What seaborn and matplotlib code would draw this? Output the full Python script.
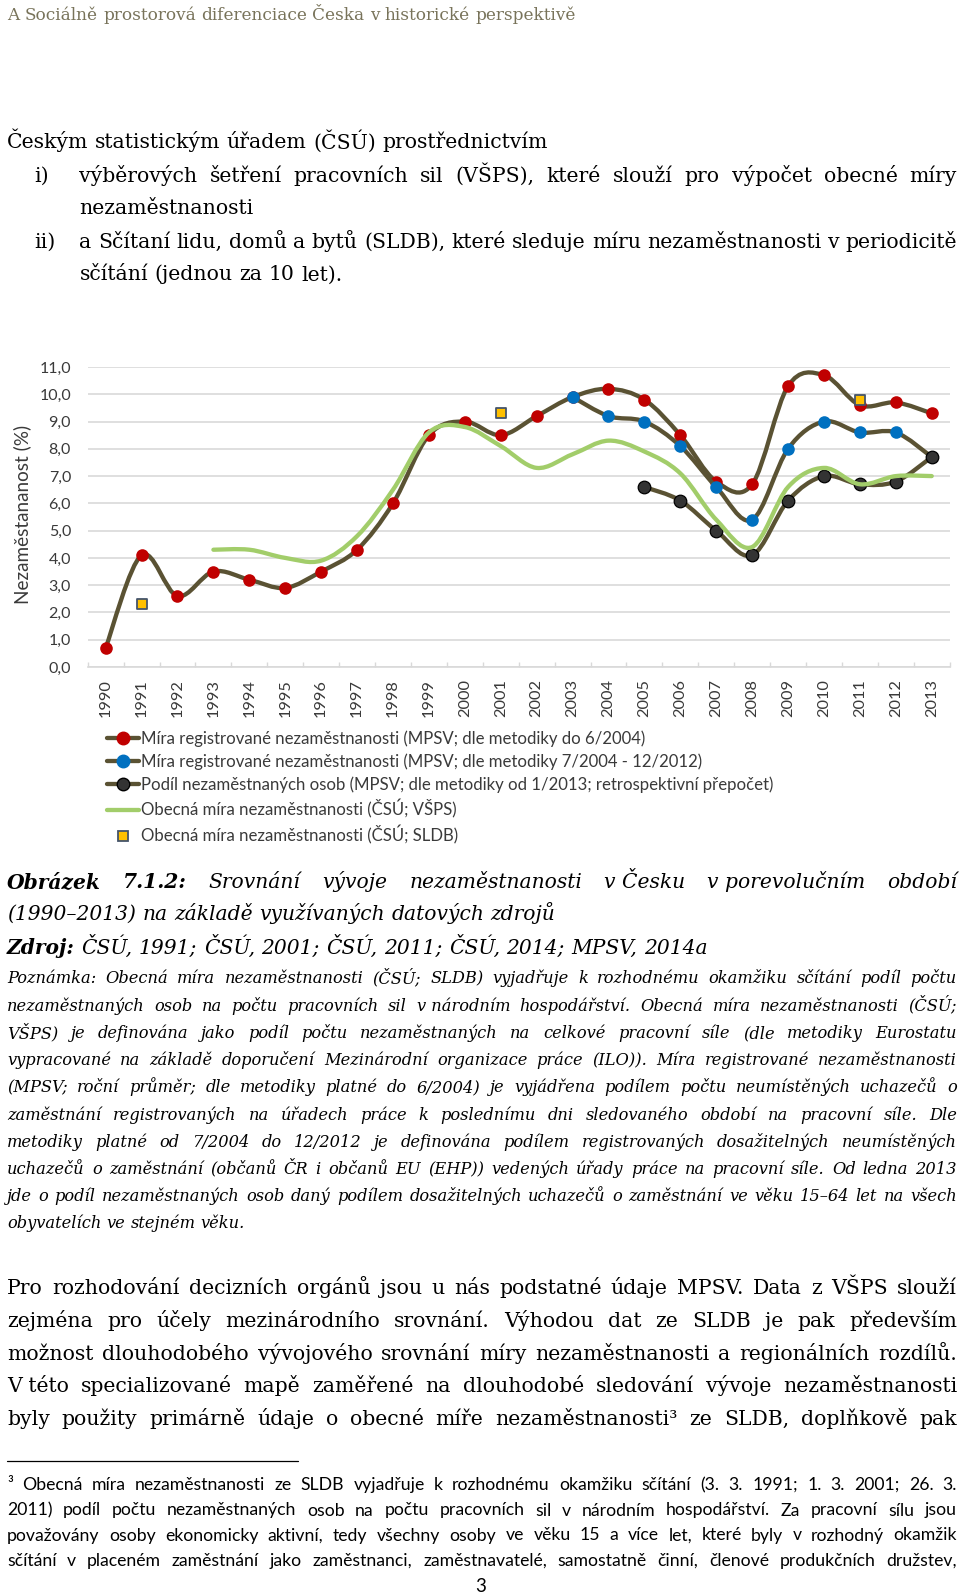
import numpy as np
import matplotlib
matplotlib.use("Agg")
import matplotlib.pyplot as plt
from matplotlib.path import Path
from matplotlib.patches import PathPatch
from matplotlib.lines import Line2D
import seaborn as sns

W, H = 960, 1596
nan = np.nan

# ---- chart data ----
years = list(range(1990, 2014))
mpsv_old = [0.7, 4.1, 2.6, 3.5, 3.2, 2.9, 3.5, 4.3, 6.0, 8.5, 9.0, 8.5,
            9.2, 9.9, 10.2, 9.8, 8.5, 6.8, 6.7, 10.3, 10.7, 9.6, 9.7, 9.3]
mpsv_new = [nan] * 13 + [9.9, 9.2, 9.0, 8.1, 6.6, 5.4, 8.0, 9.0, 8.6, 8.6, 7.7]
mpsv_2013 = [nan] * 15 + [6.6, 6.1, 5.0, 4.1, 6.1, 7.0, 6.7, 6.8, 7.7]
vsps = [nan] * 3 + [4.3, 4.3, 4.0, 3.9, 4.8, 6.5, 8.6, 8.8, 8.1, 7.3, 7.8,
                    8.3, 7.9, 7.1, 5.4, 4.4, 6.6, 7.3, 6.7, 7.0, 7.0]
sldb_years = [1991, 2001, 2011]
sldb = [2.3, 9.3, 9.8]
y_ticks = list(range(0, 12))

legend_labels = [
    "Míra registrované nezaměstnanosti (MPSV; dle metodiky do 6/2004)",
    "Míra registrované nezaměstnanosti (MPSV; dle metodiky 7/2004 - 12/2012)",
    "Podíl nezaměstnaných osob (MPSV; dle metodiky od 1/2013; retrospektivní přepočet)",
    "Obecná míra nezaměstnanosti (ČSÚ; VŠPS)",
    "Obecná míra nezaměstnanosti (ČSÚ; SLDB)",
]

OLIVE = "#5a5233"
RED = "#c00000"
BLUE = "#0070c0"
DARK = "#333333"
GREEN = "#a2cd6a"
GOLD = "#ffc000"
TXT = "#3a3a3a"

sns.set_theme(style="white")
plt.rcParams["font.family"] = ["Lato", "DejaVu Sans"]

fig = plt.figure(figsize=(W / 100, H / 100), dpi=100, facecolor="white")
renderer = fig.canvas.get_renderer()

SERIF = dict(family=["DejaVu Serif"], color="black")
SERIF_I = dict(SERIF, style="italic")
SERIF_BI = dict(SERIF_I, weight="bold")
SANS = dict(family=["Lato", "DejaVu Sans"], color="black")


def text_w(s, props):
    t = fig.text(0, 0, s, **props)
    w = t.get_window_extent(renderer).width
    t.remove()
    return w


def fit_size(s, width, props):
    return 10 * width / text_w(s, dict(props, fontsize=10))


def put_words(words, x0, base, x1=None):
    widths = [text_w(s, p) for s, p in words]
    p_last = words[-1][1]
    space = text_w("a a", p_last) - text_w("aa", p_last)
    if x1 is None:
        gap = space
    else:
        gap = (x1 - x0 - sum(widths)) / max(len(words) - 1, 1)
        if gap < 0.6 * space:
            f = (x1 - x0 - 0.6 * space * (len(words) - 1)) / sum(widths)
            words = [(s, dict(p, fontsize=p["fontsize"] * f)) for s, p in words]
            return put_words(words, x0, base, x1)
    x = x0
    for (s, p), w in zip(words, widths):
        fig.text(x / W, 1 - base / H, s, ha="left", va="baseline", **p)
        x += w + gap


def line(s, props, x0, base, x1=None):
    put_words([(w, props) for w in s.split(" ")], x0, base, x1)


def smooth_path(xs, ys):
    p = np.array([(x, y) for x, y in zip(xs, ys) if not np.isnan(y)], float)
    verts, codes = [p[0]], [Path.MOVETO]
    n = len(p)
    for i in range(n - 1):
        a = p[i - 1] if i > 0 else p[i]
        d = p[i + 2] if i + 2 < n else p[i + 1]
        verts += [p[i] + (p[i + 1] - a) / 6, p[i + 1] - (d - p[i]) / 6, p[i + 1]]
        codes += [Path.CURVE4] * 3
    return Path(verts, codes)


# ---- page text above the chart ----
L, R = 7, 957
head = dict(SERIF, color="#78735a")
head["fontsize"] = fit_size("A Sociálně prostorová diferenciace Česka v historické perspektivě", 568, head)
line("A Sociálně prostorová diferenciace Česka v historické perspektivě", head, L, 20)

para = dict(SERIF)
para["fontsize"] = fit_size("Českým statistickým úřadem (ČSÚ) prostřednictvím", 540, para)
line("Českým statistickým úřadem (ČSÚ) prostřednictvím", para, L, 148.5)
line("i)", para, 34, 181.5)
line("výběrových šetření pracovních sil (VŠPS), které slouží pro výpočet obecné míry", para, 79.4, 181.5, R)
line("nezaměstnanosti", para, 79.4, 214.5)
line("ii)", para, 34, 247.5)
line("a Sčítaní lidu, domů a bytů (SLDB), které sleduje míru nezaměstnanosti v periodicitě", para, 79.4, 247.5, R)
line("sčítání (jednou za 10 let).", para, 79.4, 280.5)

# ---- chart ----
ax = fig.add_axes([87.7 / W, 1 - 667 / H, (949.7 - 87.7) / W, 300 / H])
ax.set_facecolor("white")

series = [
    (mpsv_old, RED, RED, 2),
    (mpsv_new, BLUE, BLUE, 3),
    (mpsv_2013, DARK, "black", 4),
]
for vals, fc, ec, z in series:
    ax.add_patch(PathPatch(smooth_path(years, vals), fill=False, ec=OLIVE, lw=3.1,
                           capstyle="round", joinstyle="round", zorder=z))
    sns.scatterplot(x=years, y=vals, color=fc, edgecolor=ec, linewidth=0.9 if ec == "black" else 0,
                    s=82, zorder=z + 0.5, ax=ax, legend=False)

ax.add_patch(PathPatch(smooth_path(years, vsps), fill=False, ec=GREEN, lw=3.1,
                       capstyle="round", joinstyle="round", zorder=5))
sns.scatterplot(x=sldb_years, y=sldb, marker="s", color=GOLD, edgecolor="#44546a",
                linewidth=1.3, s=60, zorder=6, ax=ax, legend=False)

ax.set_xlim(1989.5, 2013.5)
ax.set_ylim(0, 11)
ax.set_yticks(y_ticks)
ax.set_yticklabels([f"{v:.1f}".replace(".", ",") for v in y_ticks])
ax.set_xticks(years)
ax.set_xticklabels([str(y) for y in years], rotation=90)
ax.set_xticks(np.arange(1989.5, 2014, 1), minor=True)
ax.tick_params(axis="x", which="major", length=0, pad=8.6, labelsize=11.8, labelcolor=TXT)
ax.tick_params(axis="x", which="minor", length=3.5, width=1, color="#d9d9d9", direction="in", bottom=True)
ax.tick_params(axis="y", length=0, pad=12, labelsize=11.5, labelcolor=TXT)
ax.yaxis.grid(True, color="#d9d9d9", lw=1.2)
ax.xaxis.grid(False)
ax.set_axisbelow(True)
for side in ["left", "top", "right"]:
    ax.spines[side].set_visible(False)
ax.spines["bottom"].set_color("#d9d9d9")
ax.spines["bottom"].set_linewidth(1.2)
ax.set_xlabel("")
ax.set_ylabel("")

ylab = dict(SANS, color=TXT)
ylab["fontsize"] = fit_size("Nezaměstananost (%)", 178, ylab)
fig.text(22.4 / W, 1 - 514 / H, "Nezaměstananost (%)", rotation=90, ha="center", va="center", **ylab)

leg_size = fit_size(legend_labels[2], 636, dict(SANS))
handles = [
    Line2D([], [], color=OLIVE, lw=3.1, marker="o", ms=9, mfc=RED, mec=RED),
    Line2D([], [], color=OLIVE, lw=3.1, marker="o", ms=9, mfc=BLUE, mec=BLUE),
    Line2D([], [], color=OLIVE, lw=3.1, marker="o", ms=9, mfc=DARK, mec="black"),
    Line2D([], [], color=GREEN, lw=3.1),
    Line2D([], [], ls="none", marker="s", ms=7.6, mfc=GOLD, mec="#44546a", mew=1.3),
]
leg = fig.legend(handles, legend_labels, loc="upper left", bbox_to_anchor=(107 / W, 1 - 730 / H),
                 frameon=False, handlelength=1.9, handletextpad=0.15, labelspacing=0.4,
                 borderpad=0, borderaxespad=0, prop={"family": ["Lato", "DejaVu Sans"], "size": leg_size})
for t in leg.get_texts():
    t.set_color(TXT)

# ---- caption and note ----
cap = dict(SERIF_I)
cap["fontsize"] = fit_size("(1990–2013) na základě využívaných datových zdrojů", 548, cap)
cap_b = dict(SERIF_BI, fontsize=cap["fontsize"])
put_words([("Obrázek", cap_b), ("7.1.2:", cap_b)] +
          [(w, cap) for w in "Srovnání vývoje nezaměstnanosti v\u00a0Česku v\u00a0porevolučním období".split(" ")],
          L, 888, R)
line("(1990–2013) na základě využívaných datových zdrojů", cap, L, 920)
put_words([("Zdroj:", cap_b)] + [(w, cap) for w in "ČSÚ, 1991; ČSÚ, 2001; ČSÚ, 2011; ČSÚ, 2014; MPSV, 2014a".split(" ")],
          L, 954)

note = dict(SERIF_I)
note["fontsize"] = fit_size("obyvatelích ve stejném věku.", 237, note)
note_lines = [
    "Poznámka: Obecná míra nezaměstnanosti (ČSÚ; SLDB) vyjadřuje k rozhodnému okamžiku sčítání podíl počtu",
    "nezaměstnaných osob na počtu pracovních sil v\u00a0národním hospodářství. Obecná míra nezaměstnanosti (ČSÚ;",
    "VŠPS) je definována jako podíl počtu nezaměstnaných na celkové pracovní síle (dle metodiky Eurostatu",
    "vypracované na základě doporučení Mezinárodní organizace práce (ILO)). Míra registrované nezaměstnanosti",
    "(MPSV; roční průměr; dle metodiky platné do 6/2004) je vyjádřena podílem počtu neumístěných uchazečů o",
    "zaměstnání registrovaných na úřadech práce k poslednímu dni sledovaného období na pracovní síle. Dle",
    "metodiky platné od 7/2004 do 12/2012 je definována podílem registrovaných dosažitelných neumístěných",
    "uchazečů o zaměstnání (občanů ČR i občanů EU (EHP)) vedených úřady práce na pracovní síle. Od ledna 2013",
    "jde o podíl nezaměstnaných osob daný podílem dosažitelných uchazečů o zaměstnání ve věku 15–64 let na všech",
]
note_base = [983, 1010.5, 1038, 1065, 1092, 1119.5, 1147, 1174.5, 1201]
for s, b in zip(note_lines, note_base):
    line(s, note, L, b, R)
line("obyvatelích ve stejném věku.", note, L, 1228.5)

# ---- body paragraph ----
body_lines = [
    "Pro rozhodování decizních orgánů jsou u nás podstatné údaje MPSV. Data z VŠPS slouží",
    "zejména pro účely mezinárodního srovnání. Výhodou dat ze SLDB je pak především",
    "možnost dlouhodobého vývojového srovnání míry nezaměstnanosti a regionálních rozdílů.",
    "V\u00a0této specializované mapě zaměřené na dlouhodobé sledování vývoje nezaměstnanosti",
    "byly použity primárně údaje o obecné míře nezaměstnanosti³ ze SLDB, doplňkově pak",
]
for s, b in zip(body_lines, [1294, 1326.7, 1359.5, 1392.2, 1425]):
    line(s, para, L, b, R)

# ---- footnote ----
fig.add_artist(Line2D([7 / W, 298 / W], [1 - 1461 / H] * 2, color="black", lw=0.9))
foot = dict(SANS, fontsize=12.7)
foot_lines = [
    "³ Obecná míra nezaměstnanosti ze SLDB vyjadřuje k rozhodnému okamžiku sčítání (3. 3. 1991; 1. 3. 2001; 26. 3.",
    "2011) podíl počtu nezaměstnaných osob na počtu pracovních sil v národním hospodářství. Za pracovní sílu jsou",
    "považovány osoby ekonomicky aktivní, tedy všechny osoby ve věku 15 a více let, které byly v rozhodný okamžik",
    "sčítání v placeném zaměstnání jako zaměstnanci, zaměstnavatelé, samostatně činní, členové produkčních družstev,",
]
for s, b in zip(foot_lines, [1490, 1515.5, 1540.5, 1566]):
    line(s, foot, L, b, R)
fig.text(480.5 / W, 1 - 1592 / H, "3", ha="center", va="baseline", **dict(SANS, fontsize=13.4))

fig.savefig("out.png", dpi=100, facecolor="white")
